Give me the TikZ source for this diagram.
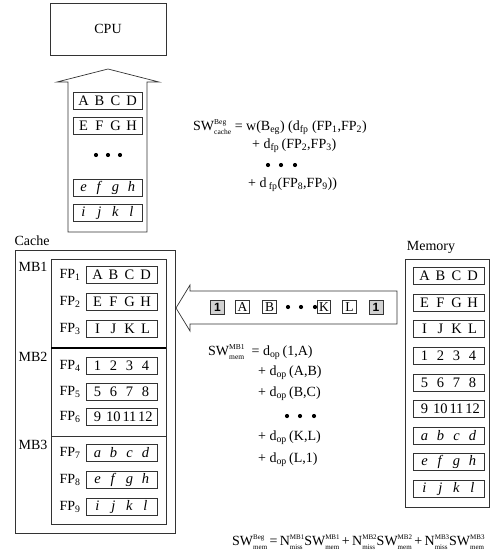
\documentclass[tikz,border=0pt]{standalone}
\usepackage{amsmath}
\usepackage{fontspec}
\setmainfont{Liberation Serif}
\newfontfamily\boldsans{Liberation Sans}
\usetikzlibrary{positioning}
\newcommand{\cells}[4]{\makebox[16pt]{#1}\makebox[16pt]{#2}\makebox[16pt]{#3}\makebox[16pt]{#4}}
% base with a superscript stacked over a subscript
\newcommand{\stkat}[4]{#2\begingroup\fontsize{#1}{8}\selectfont
  \setbox0\hbox{\raisebox{6.5pt}{#3}}\setbox2\hbox{\raisebox{-4pt}{#4}}%
  \ifdim\wd0>\wd2 \rlap{\box2}\box0\else\rlap{\box0}\box2\fi\endgroup}
\newcommand{\stk}[3]{\stkat{7.5}{#1}{#2}{#3}}
\newcommand{\stks}[3]{\stkat{7}{#1}{#2}{#3}}

\begin{document}
\begin{tikzpicture}[x=1pt,y=-1pt,
    every node/.style={font=\fontsize{14}{16}\selectfont},
    box/.style={draw=black!80,line width=0.7pt},
    cell/.style={draw=black!80,line width=0.7pt,minimum width=71,minimum height=17,inner sep=0,font=\fontsize{14.5}{16}\selectfont},
    tok/.style={draw=black!80,line width=0.7pt,minimum width=13.5,minimum height=13.5,inner sep=0,font=\fontsize{13.5}{15}\selectfont},
    marker/.style={tok,fill=black!18,minimum width=14,minimum height=14,font=\boldsans\bfseries\fontsize{12}{14}\selectfont},
    eq/.style={anchor=west,inner sep=0},
    bullet/.style={fill=black}
  ]
  \useasboundingbox (0,0) rectangle (490,554);

  % CPU and the block going up
  \node[box,minimum width=116,minimum height=52] (cpu) at (108,29) {CPU};
  \draw[box] (68,232) -- (68,82) -- (57,82) -- (108,69) -- (159,82) -- (147,82) -- (147,232) -- cycle;
  \node[cell,minimum width=69] (u1) at (107.5,101) {\cells{A}{B}{C}{D}};
  \node[cell,minimum width=69] (u2) at (107.5,126) {\cells{E}{F}{G}{H}};
  \node[cell,minimum width=69] (u3) at (107.5,188) {\cells{\textit{e}}{\textit{f}}{\textit{g}}{\textit{h}}};
  \node[cell,minimum width=69] (u4) at (107.5,213) {\cells{\textit{i}}{\textit{j}}{\textit{k}}{\textit{l}}};
  \foreach \x in {96,108,120}
    \fill[bullet] (\x,155) circle (2.1);

  % cache
  \node (cachelbl) at (32,241) {Cache};
  \draw[box] (15,250) rectangle (175,533);
  \draw[box] (51,259) rectangle (166,524);
  \draw[line width=1.6pt] (51,348) -- (166,348);
  \draw[box] (51,436) -- (166,436);
  \node (mb1) at (33,267) {MB1};
  \node (mb2) at (33,357) {MB2};
  \node (mb3) at (33,445) {MB3};
  \foreach \y/\c [count=\i] in {275/{A}{B}{C}{D},302/{E}{F}{G}{H},329/{I}{J}{K}{L},
      366/{1}{2}{3}{4},392/{5}{6}{7}{8},417/{9}{10}{11}{12},
      453/{\textit{a}}{\textit{b}}{\textit{c}}{\textit{d}},480/{\textit{e}}{\textit{f}}{\textit{g}}{\textit{h}},507/{\textit{i}}{\textit{j}}{\textit{k}}{\textit{l}}}{
    \node (fp\i) at (70,\y) {FP\textsubscript{\i}};
    \node[cell] (c\i) at (121.5,\y) {\expandafter\cells\c};
  }

  % memory
  \node (memlbl) at (431,247) {Memory};
  \draw[box] (405,259) rectangle (489.5,507);
  \foreach \c [count=\i from 0] in {{A}{B}{C}{D},{E}{F}{G}{H},{I}{J}{K}{L},{1}{2}{3}{4},{5}{6}{7}{8},{9}{10}{11}{12},
      {\textit{a}}{\textit{b}}{\textit{c}}{\textit{d}},{\textit{e}}{\textit{f}}{\textit{g}}{\textit{h}},{\textit{i}}{\textit{j}}{\textit{k}}{\textit{l}}}
    \node[cell] (m\i) at (448.5,276+26.6*\i) {\expandafter\cells\c};

  % block coming from memory
  \draw[box] (176,308) -- (190,285) -- (190,291) -- (397,291) -- (397,324) -- (190,324) -- (190,331) -- cycle;
  \node[marker] (s1) at (217.5,307) {1};
  \node[tok] (ta) at (242.5,307) {A};
  \node[tok] (tb) at (269.5,307) {B};
  \node[tok] (tk) at (324,307) {K};
  \node[tok] (tl) at (349.5,307) {L};
  \node[marker] (s2) at (376,307) {1};
  \foreach \x in {288,301,315}
    \fill[bullet] (\x,307) circle (2.1);

  % cost of a cache block
  \node[eq] (q1) at (193,127) {\stk{SW}{Beg}{cache} = w(B\textsubscript{eg}) (d\textsubscript{fp} (FP\textsubscript{1},FP\textsubscript{2})};
  \node[eq] (q2) at (252,146) {+ d\textsubscript{fp}\,(FP\textsubscript{2},FP\textsubscript{3})};
  \foreach \x in {268,281,295}
    \fill[bullet] (\x,165) circle (2.1);
  \node[eq] (q3) at (248,185) {+ d\,\textsubscript{fp}(FP\textsubscript{8},FP\textsubscript{9}))};

  % cost of a memory block
  \node[eq] (r1) at (208,352) {\stk{SW}{MB1}{mem} \ = d\textsubscript{op}\,(1,A)};
  \node[eq] (r2) at (258,373) {+ d\textsubscript{op}\,(A,B)};
  \node[eq] (r3) at (258,394) {+ d\textsubscript{op}\,(B,C)};
  \foreach \x in {287,300,314}
    \fill[bullet] (\x,416) circle (2.1);
  \node[eq] (r4) at (258,438) {+ d\textsubscript{op}\,(K,L)};
  \node[eq] (r5) at (258,460) {+ d\textsubscript{op}\,(L,1)};

  \node[eq] (tot) at (232,542) {\stks{SW}{Beg}{mem}\,=\,\stks{N}{MB1}{miss}\stks{SW}{MB1}{mem}\,+\,\stks{N}{MB2}{miss}\stks{SW}{MB2}{mem}\,+\,\stks{N}{MB3}{miss}\stks{SW}{MB3}{mem}};
\end{tikzpicture}
\end{document}
